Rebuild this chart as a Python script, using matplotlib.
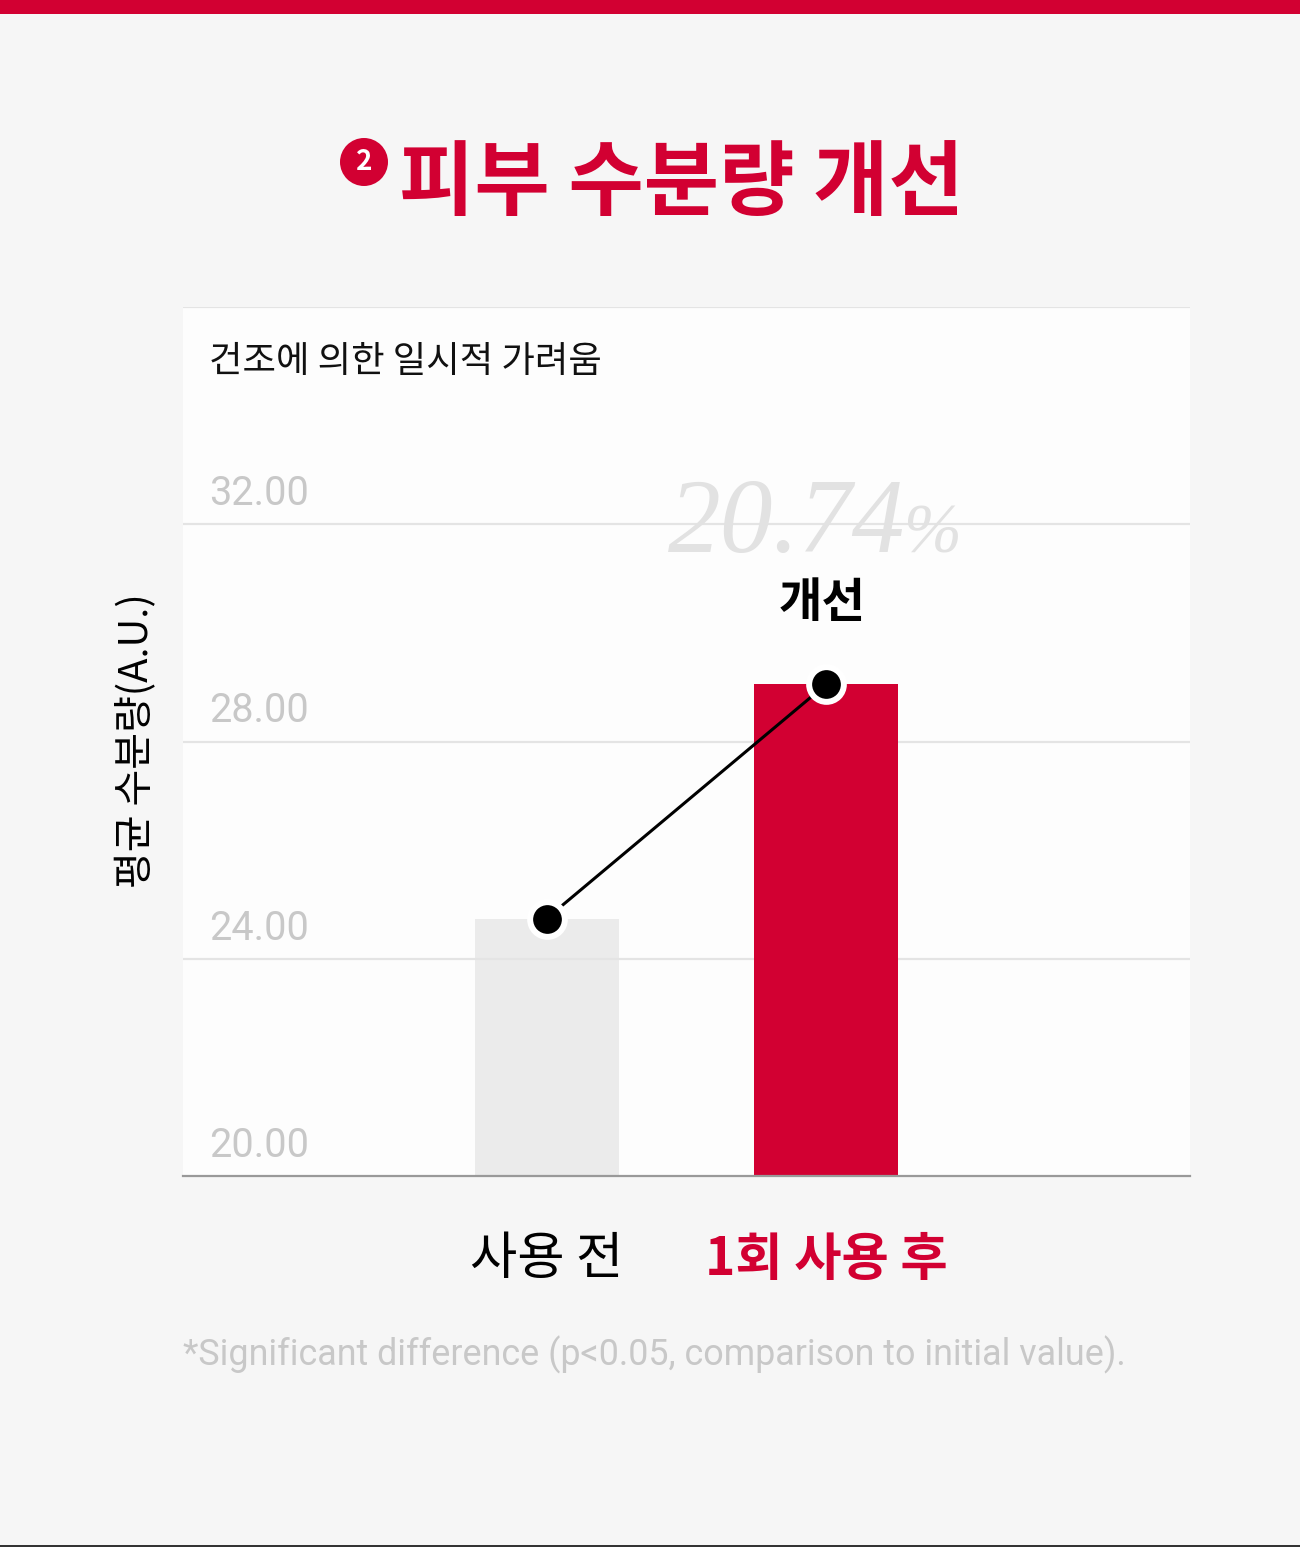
import matplotlib
matplotlib.use('Agg')
import matplotlib.pyplot as plt
from matplotlib.patches import Rectangle, Ellipse
import matplotlib.transforms as mtransforms

# ---- data ----
categories = ['사용 전', '1회 사용 후']
values = [24.74, 29.05]
yticks = [20, 24, 28, 32]
ytick_labels = ['20.00', '24.00', '28.00', '32.00']
improvement = '20.74'
title = '피부 수분량 개선'
subtitle = '건조에 의한 일시적 가려움'
ylabel = '평균 수분량(A.U.)'
badge = '개선'
footnote = '*Significant difference (p<0.05, comparison to initial value).'

RED = '#d20032'
KR = ['Noto Sans CJK KR', 'DejaVu Sans']
W, H = 1300, 1547

fig = plt.figure(figsize=(13, 15.47), dpi=100, facecolor='#f6f6f6')


def fx(px):
    return px / W


def fy(py):
    return 1 - py / H


# top red band and bottom dark line
fig.add_artist(Rectangle((0, fy(14)), 1, 14 / H, transform=fig.transFigure, color=RED, lw=0))
fig.add_artist(Rectangle((0, 0), 1, 2 / H, transform=fig.transFigure, color='#333333', lw=0))

# title with numbered badge
fig.add_artist(Ellipse((fx(364), fy(162)), 48 / W, 48 / H, transform=fig.transFigure,
                       color=RED, lw=0))
fig.text(fx(364), fy(162), '2', color='white', fontsize=20, fontweight='bold',
         ha='center', va='center', family=KR)
fig.text(fx(681), fy(185), title, color=RED, fontsize=59, fontweight='black',
         ha='center', va='center', family=KR)

# axes
ax = fig.add_axes([fx(183), fy(1176), fx(1190) - fx(183), (1176 - 307) / H])
ax.set_facecolor('#fdfdfd')
ax.set_ylim(20, 36)
ax.set_xlim(-1.3005, 2.302)
for s in ax.spines.values():
    s.set_visible(False)

x = list(range(len(categories)))
ax.bar(x[0], values[0], width=0.515, color='#ebebeb', zorder=1)
ax.bar(x[1], values[1], width=0.515, color=RED, zorder=2)

for yv in yticks[1:] + [36]:
    ax.axhline(yv, color='#e4e4e4', lw=1.6, zorder=1.5)
ax.axhline(20, color='#999999', lw=1.6, zorder=3, clip_on=False)

ax.plot(x, values, color='black', lw=2.2, zorder=4)
ax.plot(x, values, 'o', ms=25, mfc='black', mec='white', mew=4.3, zorder=5)

ax.set_yticks([])
ax.set_xticks(x, categories)
ax.tick_params(axis='x', length=0, pad=41)
for lab, col, wt in zip(ax.get_xticklabels(), ['black', RED], ['normal', 'bold']):
    lab.set_color(col)
    lab.set_fontweight(wt)
    lab.set_fontsize(37)
    lab.set_family(KR)

# y tick labels inside the plot
trans = mtransforms.blended_transform_factory(ax.transAxes, ax.transData)
trans = mtransforms.offset_copy(trans, fig=fig, y=19, units='dots')
for yv, lab in zip(yticks, ytick_labels):
    ax.text((209 - 183) / 1007, yv, lab, transform=trans, fontsize=28.5, color='#c8c8c8',
            ha='left', va='baseline', family=['Roboto', 'DejaVu Sans'])

# subtitle
fig.text(fx(209), fy(362), subtitle, fontsize=26.2, color='#111111', ha='left', va='center',
         family=KR)

# y label
fig.text(fx(137), fy(741), ylabel, rotation=90, fontsize=28.8, color='black',
         ha='center', va='center', family=KR)

# improvement
fig.text(fx(905), fy(552), improvement, fontsize=76, style='italic', color='#e2e2e2',
         ha='right', va='baseline', family=['Liberation Serif', 'DejaVu Serif'])
fig.text(fx(903), fy(552), '%', fontsize=50, style='italic', color='#e2e2e2',
         ha='left', va='baseline', family=['Liberation Serif', 'DejaVu Serif'])
fig.text(fx(822), fy(603), badge, fontsize=34, fontweight='bold', color='black',
         ha='center', va='center', family=KR)

# footnote
fig.text(fx(183), fy(1355), footnote, fontsize=25.8, color='#c8c8c8', ha='left', va='center',
         family=['Roboto', 'DejaVu Sans'])

fig.savefig('out.png', dpi=100, facecolor=fig.get_facecolor())
